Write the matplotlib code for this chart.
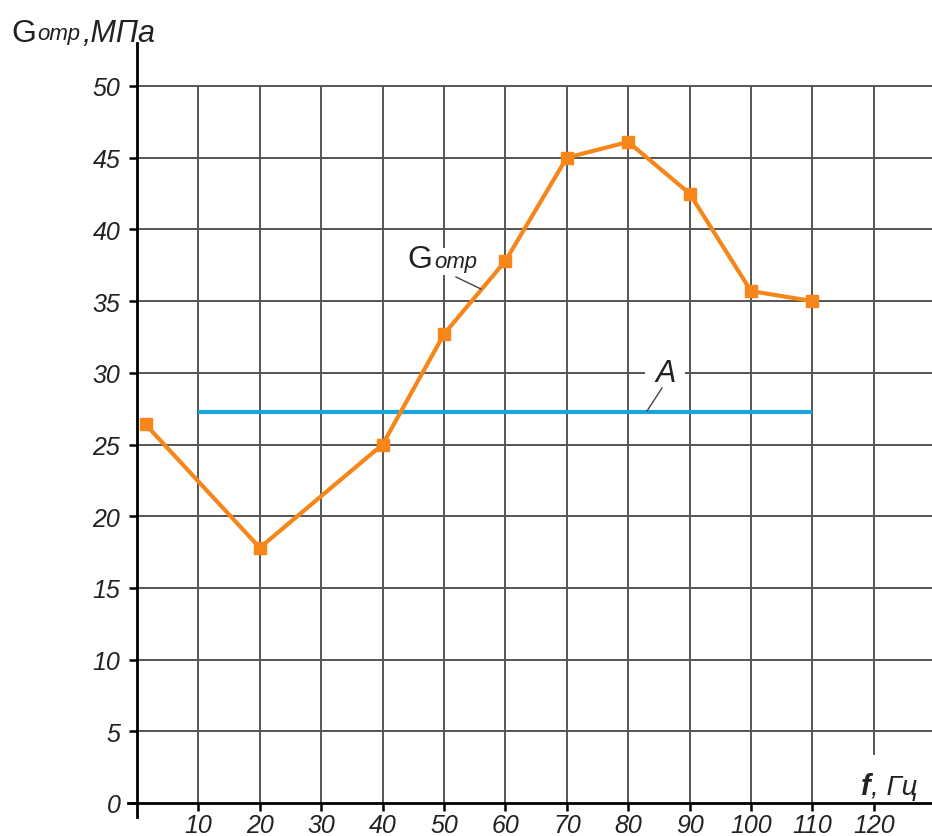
import matplotlib
matplotlib.use("Agg")
import matplotlib.pyplot as plt

# Data
freq = [1.4, 20, 40, 50, 60, 70, 80, 90, 100, 110]
g_otr = [26.4, 17.8, 25.0, 32.7, 37.8, 45.0, 46.1, 42.5, 35.7, 35.0]
a_x = [10, 110]
a_y = [27.3, 27.3]
x_ticks = [10, 20, 30, 40, 50, 60, 70, 80, 90, 100, 110, 120]
y_ticks = [0, 5, 10, 15, 20, 25, 30, 35, 40, 45, 50]

W, H = 932, 837
fig = plt.figure(figsize=(W / 100, H / 100), dpi=100)
ax = fig.add_axes([0, 0, 1, 1])

# pixel mapping: x=0 at px 137, 6.14 px/unit; y=0 at px 804 (from top), 14.34 px/unit
sx, x0 = 6.14, 137
sy, y0 = 14.34, 804
ax.set_xlim(-x0 / sx, (W - x0) / sx)
ax.set_ylim(-(H - y0) / sy, y0 / sy)

FONT = "Liberation Sans"
grid_c = "#555555"

# grid
for xv in x_ticks:
    lo = 3.4 if xv == 120 else 0
    ax.plot([xv, xv], [lo, 50], color=grid_c, lw=1.4, zorder=1)
for yv in y_ticks[1:]:
    ax.plot([0, ax.get_xlim()[1]], [yv, yv], color=grid_c, lw=1.4, zorder=1)

# spines
for s in ["top", "right"]:
    ax.spines[s].set_visible(False)
ax.spines["left"].set_position(("data", 0))
ax.spines["bottom"].set_position(("data", 0))
ax.spines["left"].set_bounds(-1.0, 53.0)
ax.spines["bottom"].set_bounds(-1.5, ax.get_xlim()[1])
ax.spines["left"].set_linewidth(2)
ax.spines["bottom"].set_linewidth(2)
ax.spines["left"].set_zorder(5)
ax.spines["bottom"].set_zorder(5)

ax.set_xticks(x_ticks)
ax.set_xticklabels([str(v) for v in x_ticks], fontfamily=FONT, fontstyle="italic", fontsize=18, color="#222222")
ax.set_yticks(y_ticks)
ax.set_yticklabels([str(v) for v in y_ticks], fontfamily=FONT, fontstyle="italic", fontsize=18, color="#222222")
ax.tick_params(axis="x", direction="out", length=6, width=1.8, pad=1)
ax.tick_params(axis="y", direction="out", length=6, width=1.8, pad=6)

# series
ax.plot(a_x, a_y, color="#1ba3dc", lw=3, zorder=3, solid_capstyle="butt")
ax.plot(freq, g_otr, color="#f7861a", lw=3, marker="s", markersize=9, zorder=4)

# annotation G_otr
bb = dict(facecolor="white", edgecolor="none", pad=2)
ax.annotate("G", xy=(407, H - 268), xycoords="figure pixels", fontsize=23, fontfamily=FONT,
            va="baseline", ha="left", color="#222222", zorder=6, bbox=bb)
ax.annotate("отр", xy=(434, H - 268), xycoords="figure pixels", fontsize=16, fontfamily=FONT,
            fontstyle="italic", va="baseline", ha="left", color="#222222", zorder=6, bbox=bb)
ax.plot([(456 - x0) / sx, (481 - x0) / sx], [(y0 - 278) / sy, (y0 - 290) / sy], color="#444444", lw=1, zorder=6)

# annotation A
ax.annotate("A", xy=(655, H - 382), xycoords="figure pixels", fontsize=22, fontfamily=FONT,
            fontstyle="italic", va="baseline", ha="left", color="#222222", zorder=6,
            bbox=dict(facecolor="white", edgecolor="none", pad=7))
ax.plot([(662 - x0) / sx, (647 - x0) / sx], [(y0 - 389) / sy, (y0 - 412) / sy], color="#444444", lw=1, zorder=6)

# axis titles
ax.annotate("G", xy=(11, H - 42), xycoords="figure pixels", fontsize=23, fontfamily=FONT,
            va="baseline", ha="left", color="#222222")
ax.annotate("отр", xy=(37, H - 40), xycoords="figure pixels", fontsize=16, fontfamily=FONT,
            fontstyle="italic", va="baseline", ha="left", color="#222222")
ax.annotate(",МПа", xy=(82, H - 42), xycoords="figure pixels", fontsize=22, fontfamily=FONT,
            fontstyle="italic", va="baseline", ha="left", color="#222222")
ax.annotate("f", xy=(861, H - 795), xycoords="figure pixels", fontsize=21, fontfamily=FONT,
            fontstyle="italic", fontweight="bold", va="baseline", ha="left", color="#222222")
ax.annotate(", Гц", xy=(871, H - 795), xycoords="figure pixels", fontsize=20, fontfamily=FONT,
            fontstyle="italic", va="baseline", ha="left", color="#222222")

fig.savefig("out.png", dpi=100)
